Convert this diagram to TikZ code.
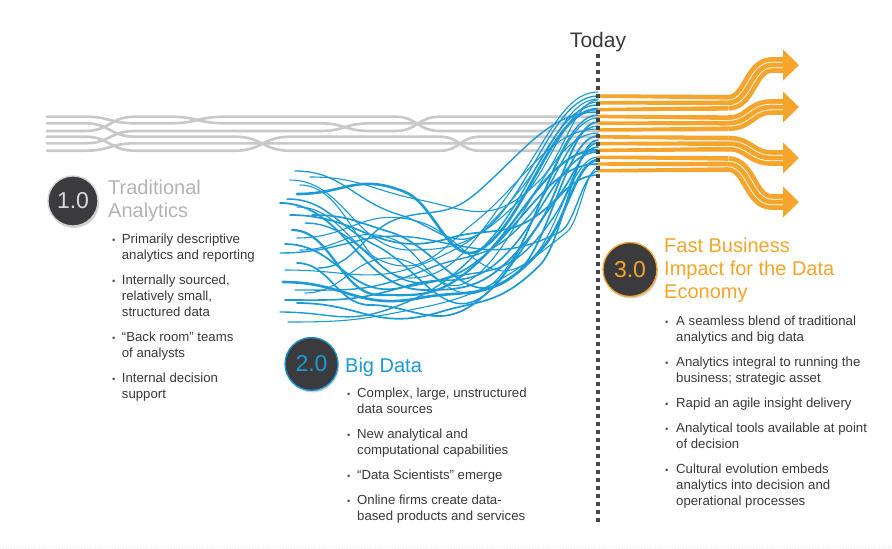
\documentclass[tikz,border=0pt]{standalone}
\usepackage{fontspec}
\setmainfont{Liberation Sans}
\usetikzlibrary{shadows}
\definecolor{bl}{HTML}{1B9AD6}
\definecolor{og}{HTML}{F5A52B}
\definecolor{gl}{HTML}{C8C8C8}
\definecolor{tg}{HTML}{3A3A3A}
\definecolor{cf}{HTML}{3B3B3D}
\definecolor{tl}{HTML}{B4B4B4}
\definecolor{dg}{HTML}{444444}
\begin{document}
\begin{tikzpicture}[x=1pt,y=-1pt,
  greyline/.style={gl, line width=2.6, line cap=round},
  blueline/.style={bl, line cap=round},
  btxt/.style={anchor=base west, inner sep=0, text=tg, font=\fontsize{13.2}{16}\selectfont},
  bdot/.style={anchor=base west, inner sep=0, text=tg!85, font=\fontsize{9.5}{9.5}\selectfont},
  ttl/.style={anchor=base west, inner sep=0, font=\fontsize{20}{23}\selectfont},
  numcirc/.style={circle, inner sep=0, fill=cf, line width=1.3,
    drop shadow={opacity=0.35, shadow xshift=1pt, shadow yshift=-2pt},
    font=\fontsize{23}{23}\selectfont}]
\useasboundingbox (0,0) rectangle (892,549);
\fill[white] (0,0) rectangle (892,549);

% faint bottom rule
\coordinate (fl) at (0,547);
\coordinate (fr) at (892,547);
\draw[black!10, dotted, line width=0.8] (fl) -- (fr);

% grey braided strands (traditional)
\draw[greyline] (47,116.7) -- (85,116.7) .. controls (110,116.7) and (110,123.3) .. (135,123.3) -- (170,123.3) .. controls (197.5,123.3) and (197.5,116.7) .. (225,116.7) -- (395,116.7) .. controls (417.5,116.7) and (417.5,131) .. (440,131) -- (598,131);
\draw[greyline] (47,123.3) -- (85,123.3) .. controls (110,123.3) and (110,136.7) .. (135,136.7) -- (235,136.7) .. controls (262.5,136.7) and (262.5,150.7) .. (290,150.7) -- (440,150.7) .. controls (460,150.7) and (460,136.7) .. (480,136.7) -- (598,136.7);
\draw[greyline] (47,131) -- (85,131) .. controls (110,131) and (110,116.7) .. (135,116.7) -- (170,116.7) .. controls (197.5,116.7) and (197.5,123.3) .. (225,123.3) -- (320,123.3) .. controls (345,123.3) and (345,131) .. (370,131) -- (395,131) .. controls (417.5,131) and (417.5,116.7) .. (440,116.7) -- (598,116.7);
\draw[greyline] (47,136.7) -- (85,136.7) .. controls (110,136.7) and (110,150.7) .. (135,150.7) -- (235,150.7) .. controls (262.5,150.7) and (262.5,136.7) .. (290,136.7) -- (440,136.7) .. controls (460,136.7) and (460,150.7) .. (480,150.7) -- (598,150.7);
\draw[greyline] (47,143.3) -- (85,143.3) .. controls (110,143.3) and (110,131) .. (135,131) -- (320,131) .. controls (345,131) and (345,123.3) .. (370,123.3) -- (598,123.3);
\draw[greyline] (47,150.7) -- (85,150.7) .. controls (110,150.7) and (110,143.3) .. (135,143.3) -- (598,143.3);

% blue tangled strands (big data)
\foreach \xa/\ya/\xb/\yb/\sb/\xc/\yc/\sc/\ye/\w in {
 295/171/400/215/0.3/500/215/-1.2/96/1.3,
 290/180/410/250/0/520/200/-1.0/102/1.1,
 297/194/405/192/0.4/480/250/-0.6/109/2.6,
 287/199/375/245/0.5/500/280/-1.2/115/1.5,
 280/203/425/290/0/535/230/-1.3/122/1.8,
 297/207/395/265/0.2/475/222/-0.8/129/1.1,
 312/215/390/232/0.3/520/270/-1.0/136/1.7,
 305/223/440/280/-0.3/555/215/-1.5/143/1.4,
 292/230/380/295/0/475/265/-0.9/150/2.2,
 297/238/420/222/0.3/530/260/-0.8/157/1.1,
 285/244/400/288/-0.2/505/235/-1.1/164/1.7,
 280/253/430/240/0.2/560/232/-0.5/171/1.4,
 297/263/370/305/0/490/290/-1.0/175/1.7,
 285/270/450/252/-0.5/520/190/-1.2/99/1.1,
 318/268/400/218/-0.3/480/190/-0.9/112/1.4,
 283/282/420/298/-0.2/545/245/-1.2/160/2.6,
 305/293/390/258/0/505/270/-1.3/118/1.1,
 297/303/440/312/-0.3/540/265/-1.0/140/1.7,
 280/312/400/305/-0.4/485/245/-1.0/105/1.4,
 288/322/420/308/-0.2/567/232/-0.8/168/1.1,
 300/185/410/278/0/515/185/-1.4/92/1.1,
 290/215/450/238/-0.3/555/200/-1.0/147/1.7,
 300/250/390/238/0.3/465/283/-0.5/133/1.1,
 295/290/430/268/-0.4/530/215/-1.2/126/1.4,
 310/177/420/200/0.2/540/180/-1.0/100/1.1,
 285/300/410/285/-0.3/510/250/-1.1/152/1.6}{
  \draw[blueline, line width=\w] (\xa,\ya)
     .. controls ({\xa+0.45*(\xb-\xa)},\ya) and ({\xb-0.45*(\xb-\xa)},{\yb-\sb*0.45*(\xb-\xa)}) .. (\xb,\yb)
     .. controls ({\xb+0.4*(\xc-\xb)},{\yb+\sb*0.4*(\xc-\xb)}) and ({\xc-0.4*(\xc-\xb)},{\yc-\sc*0.4*(\xc-\xb)}) .. (\xc,\yc)
     .. controls ({\xc+0.4*(598-\xc)},{\yc+\sc*0.4*(598-\xc)}) and ({598-0.4*(598-\xc)},\ye) .. (598,\ye);
}

% orange arrows (fast business impact)
\foreach \yc/\yt in {102.8/65, 123.2/107, 143.6/158, 164/202}{
  \foreach \k in {-1,0,1}{
    \fill[og] (598,{\yc+\k*6.8-1.7}) -- (728,{\yc+\k*5.55-2.35}) -- (728,{\yc+\k*5.55+2.35}) -- (598,{\yc+\k*6.8+1.7}) -- cycle;
  }
  \draw[og, line width=15.8] (728,\yc) .. controls (750,\yc) and (750,\yt) .. (772,\yt) -- (784,\yt);
  \draw[white, line width=6.4] (728,\yc) .. controls (750,\yc) and (750,\yt) .. (772,\yt) -- (784,\yt);
  \draw[og, line width=4.7] (728,\yc) .. controls (750,\yc) and (750,\yt) .. (772,\yt) -- (784,\yt);
  \fill[og] (783,{\yt-15.5}) -- (799,\yt) -- (783,{\yt+15.5}) -- cycle;
}

% today line
\node[anchor=base, inner sep=0, text=tg, font=\fontsize{21}{21}\selectfont] (today) at (598,47) {Today};
\coordinate (dtop) at (598,54);
\coordinate (dbot) at (598,524);
\draw[dg, line width=4.5, dash pattern=on 4 off 4] (dtop) -- (dbot);

% circles
\node[numcirc, minimum size=50, draw=black!18, text=white!85!black] (c1) at (73,201) {1.0};
\node[numcirc, minimum size=53, draw=bl, text=bl] (c2) at (311.5,364) {2.0};
\node[numcirc, minimum size=54, draw=og, text=og] (c3) at (630,269.5) {3.0};

% titles
\node[ttl, text=tl] (t1a) at (108,194) {Traditional};
\node[ttl, text=tl] (t1b) at (108,217) {Analytics};
\node[ttl, text=bl] (t2a) at (345,372) {Big Data};
\node[ttl, text=og] (t3a) at (664,252) {Fast Business};
\node[ttl, text=og] (t3b) at (664,275) {Impact for the Data};
\node[ttl, text=og] (t3c) at (664,298) {Economy};

% bullets section 1
\foreach \t/\y [count=\i] in {Primarily descriptive/243, analytics and reporting/259, {Internally sourced,}/284, {relatively small,}/300, structured data/316, “Back room” teams/341, of analysts/357, Internal decision/382, support/398}{
  \node[btxt] (s1l\i) at (121.7,\y) {\t};
}
\foreach \y [count=\i] in {243,284,341,382}{
  \node[bdot] (s1b\i) at (112,\y) {\textbullet};
}

% bullets section 2
\foreach \t/\y [count=\i] in {{Complex, large, unstructured}/397, data sources/413, New analytical and/438, computational capabilities/454, “Data Scientists” emerge/479, Online firms create data-/504, based products and services/520}{
  \node[btxt] (s2l\i) at (357,\y) {\t};
}
\foreach \y [count=\i] in {397,438,479,504}{
  \node[bdot] (s2b\i) at (347,\y) {\textbullet};
}

% bullets section 3
\foreach \t/\y [count=\i] in {A seamless blend of traditional/325, analytics and big data/341, Analytics integral to running the/366, business; strategic asset/382, Rapid an agile insight delivery/407, Analytical tools available at point/432, of decision/448, Cultural evolution embeds/473, analytics into decision and/489, operational processes/505}{
  \node[btxt] (s3l\i) at (676,\y) {\t};
}
\foreach \y [count=\i] in {325,366,407,432,473}{
  \node[bdot] (s3b\i) at (665,\y) {\textbullet};
}
\end{tikzpicture}
\end{document}
